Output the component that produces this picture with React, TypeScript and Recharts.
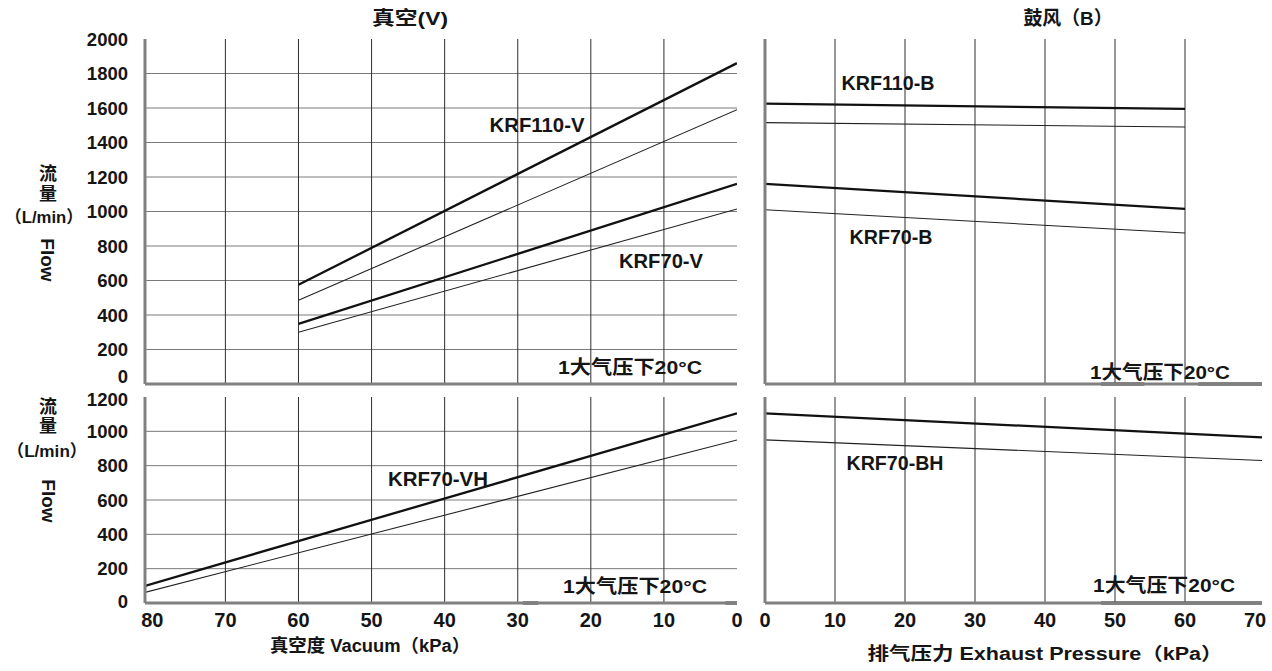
import React from 'react';
import { LineChart, Line, XAxis, YAxis, CartesianGrid, ReferenceLine } from 'recharts';

const FF = "'Liberation Sans', Arial, 'Noto Sans CJK SC', sans-serif";
const CJK = "'Liberation Sans', 'Noto Sans CJK SC', sans-serif";

// ---- Top-left: vacuum (V) ----
const vacuumX = [60, 0];
const krf110V_upper = [575, 1860];
const krf110V_lower = [485, 1590];
const krf70V_upper = [348, 1160];
const krf70V_lower = [300, 1015];

// ---- Top-right: blow (B) ----
const blowX = [0, 60];
const krf110B_upper = [1625, 1595];
const krf110B_lower = [1515, 1490];
const krf70B_upper = [1160, 1015];
const krf70B_lower = [1010, 875];

// ---- Bottom-left: vacuum (VH) ----
const vhX = [81, 0];
const krf70VH_upper = [100, 1105];
const krf70VH_lower = [62, 950];

// ---- Bottom-right: blow (BH) ----
const bhX = [0, 71];
const krf70BH_upper = [1105, 965];
const krf70BH_lower = [950, 830];

// ---- Ticks ----
const vacuumTicks = [80, 70, 60, 50, 40, 30, 20, 10, 0];
const pressureTicks = [0, 10, 20, 30, 40, 50, 60, 70];
const flowTicksTop = [0, 200, 400, 600, 800, 1000, 1200, 1400, 1600, 1800, 2000];
const flowTicksBottom = [0, 200, 400, 600, 800, 1000, 1200];
const gridTopLeft = [200, 400, 600, 800, 1000, 1200, 1400, 1600, 1800];
const gridTopRight = [200, 400, 600, 800, 1000, 1400, 1600, 1800];
const gridBottomLeft = [200, 400, 600, 800, 1000];
const vacuumGrid = [70, 60, 50, 40, 30, 20, 10];
const pressureGrid = [10, 20, 30, 40, 50, 60];

// dark axis segments (scan marks on the base line)
const tlMarks: number[][] = [];
const trMarks = [[48, 54.2], [61.9, 71]];
const blMarks = [[29.3, 27.2], [1.6, 0]];
const brMarks = [[48, 71]];

const pts = (xs: number[], ys: number[]) => xs.map((x, i) => ({ x, y: ys[i] }));

type Series = { name: string; data: { x: number; y: number }[]; thick: boolean };

type PanelProps = {
  left: number; top: number; width: number; height: number;
  margin: { top: number; right: number; bottom: number; left: number };
  xDomain: [number, number]; reversed: boolean; xTicks: number[] | null; xHeight: number;
  yDomain: [number, number]; yTicks: number[]; showY: boolean; yWidth: number;
  zeroShift: number; topShift: number;
  hGrid: number[]; vGrid: number[];
  series: Series[]; marks: number[][];
};

const axisLine = { stroke: '#808080', strokeWidth: 3 };

const makeYTick = (zeroShift: number, topShift: number, topValue: number) => (props: any) => {
  const { x, y, payload } = props;
  const dy = payload.value === 0 ? zeroShift : payload.value === topValue ? topShift : 0;
  return (
    <text
      x={x}
      y={y + dy}
      textAnchor="end"
      dominantBaseline="central"
      fill="#151515"
      fontSize={18.5}
      fontWeight="bold"
      fontFamily={FF}
    >
      {payload.value}
    </text>
  );
};

function Panel(p: PanelProps) {
  return (
    <div style={{ position: 'absolute', left: p.left, top: p.top, width: p.width, height: p.height }}>
      <LineChart width={p.width} height={p.height} margin={p.margin}>
        {p.hGrid.length > 0 && (
          <CartesianGrid vertical={false} horizontalValues={p.hGrid} stroke="#7a7a7a" strokeWidth={1} />
        )}
        {p.vGrid.map((v) => (
          <ReferenceLine key={'v' + v} x={v} stroke="#2e2e2e" strokeWidth={1} />
        ))}
        <XAxis
          type="number"
          dataKey="x"
          domain={p.xDomain}
          reversed={p.reversed}
          ticks={p.xTicks ?? []}
          interval={0}
          allowDataOverflow
          height={p.xHeight}
          tickLine={false}
          tickSize={6}
          tickMargin={4}
          axisLine={axisLine}
          tick={p.xTicks ? { fill: '#151515', fontSize: 20, fontWeight: 'bold', fontFamily: FF } : false}
        />
        <YAxis
          type="number"
          domain={p.yDomain}
          ticks={p.yTicks}
          interval={0}
          allowDataOverflow
          width={p.yWidth}
          tickLine={false}
          tickSize={6}
          tickMargin={11}
          axisLine={axisLine}
          tick={p.showY ? makeYTick(p.zeroShift, p.topShift, p.yDomain[1]) : false}
        />
        {p.marks.map((m, i) => (
          <ReferenceLine
            key={'m' + i}
            segment={[{ x: m[0], y: 0 }, { x: m[1], y: 0 }]}
            stroke="#111"
            strokeWidth={3}
            ifOverflow="visible"
          />
        ))}
        {p.series.map((s) => (
          <Line
            key={s.name}
            name={s.name}
            data={s.data}
            dataKey="y"
            type="linear"
            dot={false}
            activeDot={false}
            stroke={s.thick ? '#111' : '#222'}
            strokeWidth={s.thick ? 2.3 : 1.1}
            isAnimationActive={false}
          />
        ))}
      </LineChart>
    </div>
  );
}

const T = (props: any) => {
  const { ff, ...rest } = props;
  return (
    <text
      fontFamily={ff ?? FF}
      fontWeight="bold"
      fill="#151515"
      textAnchor="middle"
      dominantBaseline="central"
      {...rest}
    />
  );
};

export default function App() {
  return (
    <div style={{ position: 'absolute', left: 0, top: 0, width: 1272, height: 671, background: '#fff', overflow: 'hidden' }}>
      <Panel
        left={0} top={0} width={760} height={400}
        margin={{ top: 39, right: 23, bottom: 0, left: 85 }}
        xDomain={[0, 81]} reversed xTicks={null} xHeight={16}
        yDomain={[0, 2000]} yTicks={flowTicksTop} showY yWidth={60} zeroShift={-8} topShift={0}
        hGrid={gridTopLeft} vGrid={vacuumGrid}
        marks={tlMarks}
        series={[
          { name: 'KRF110-V upper', data: pts(vacuumX, krf110V_upper), thick: true },
          { name: 'KRF110-V lower', data: pts(vacuumX, krf110V_lower), thick: false },
          { name: 'KRF70-V upper', data: pts(vacuumX, krf70V_upper), thick: true },
          { name: 'KRF70-V lower', data: pts(vacuumX, krf70V_lower), thick: false },
        ]}
      />
      <Panel
        left={740} top={0} width={532} height={400}
        margin={{ top: 39, right: 10, bottom: 0, left: 20 }}
        xDomain={[0, 71]} reversed={false} xTicks={null} xHeight={16}
        yDomain={[0, 2000]} yTicks={flowTicksTop} showY={false} yWidth={5} zeroShift={0} topShift={0}
        hGrid={gridTopRight} vGrid={pressureGrid}
        marks={trMarks}
        series={[
          { name: 'KRF110-B upper', data: pts(blowX, krf110B_upper), thick: true },
          { name: 'KRF110-B lower', data: pts(blowX, krf110B_lower), thick: false },
          { name: 'KRF70-B upper', data: pts(blowX, krf70B_upper), thick: true },
          { name: 'KRF70-B lower', data: pts(blowX, krf70B_lower), thick: false },
        ]}
      />
      <Panel
        left={0} top={380} width={760} height={291}
        margin={{ top: 17, right: 23, bottom: 28, left: 85 }}
        xDomain={[0, 81]} reversed xTicks={vacuumTicks} xHeight={40}
        yDomain={[0, 1200]} yTicks={flowTicksBottom} showY yWidth={60} zeroShift={-2} topShift={2}
        hGrid={gridBottomLeft} vGrid={vacuumGrid}
        marks={blMarks}
        series={[
          { name: 'KRF70-VH upper', data: pts(vhX, krf70VH_upper), thick: true },
          { name: 'KRF70-VH lower', data: pts(vhX, krf70VH_lower), thick: false },
        ]}
      />
      <Panel
        left={740} top={380} width={532} height={291}
        margin={{ top: 17, right: 10, bottom: 28, left: 20 }}
        xDomain={[0, 71]} reversed={false} xTicks={pressureTicks} xHeight={40}
        yDomain={[0, 1200]} yTicks={flowTicksBottom} showY={false} yWidth={5} zeroShift={0} topShift={0}
        hGrid={[]} vGrid={pressureGrid}
        marks={brMarks}
        series={[
          { name: 'KRF70-BH upper', data: pts(bhX, krf70BH_upper), thick: true },
          { name: 'KRF70-BH lower', data: pts(bhX, krf70BH_lower), thick: false },
        ]}
      />
      <svg width={1272} height={671} style={{ position: 'absolute', left: 0, top: 0, pointerEvents: 'none' }}>
        {/* titles */}
        <T x={410} y={18} fontSize={19} ff={CJK} textLength={76} lengthAdjust="spacingAndGlyphs">真空(V)</T>
        <T x={1068} y={18} fontSize={19} ff={CJK} textLength={89} lengthAdjust="spacingAndGlyphs">鼓风（B）</T>

        {/* y axis labels top */}
        <T x={48} y={174} fontSize={18} ff={CJK}>流</T>
        <T x={48} y={194} fontSize={18} ff={CJK}>量</T>
        <T x={44} y={217} fontSize={17} ff={CJK} textLength={78} lengthAdjust="spacingAndGlyphs">（L/min）</T>
        <T x={0} y={0} fontSize={19} transform="translate(47,260) rotate(90)">Flow</T>

        {/* y axis labels bottom */}
        <T x={48} y={407} fontSize={18} ff={CJK}>流</T>
        <T x={48} y={426} fontSize={18} ff={CJK}>量</T>
        <T x={47} y={451} fontSize={17} ff={CJK} textLength={80} lengthAdjust="spacingAndGlyphs">（L/min）</T>
        <T x={0} y={0} fontSize={19} transform="translate(48,501) rotate(90)">Flow</T>

        {/* x axis titles */}
        <T x={370} y={646} fontSize={18} ff={CJK} textLength={200} lengthAdjust="spacingAndGlyphs">真空度 Vacuum（kPa）</T>
        <T x={1045} y={654} fontSize={18} ff={CJK} textLength={355} lengthAdjust="spacingAndGlyphs">排气压力  Exhaust Pressure（kPa）</T>

        {/* conditions */}
        <T x={630} y={367} fontSize={19} ff={CJK} textLength={144} lengthAdjust="spacingAndGlyphs">1大气压下20°C</T>
        <T x={1160} y={372} fontSize={19} ff={CJK} textLength={140} lengthAdjust="spacingAndGlyphs">1大气压下20°C</T>
        <T x={635} y={586} fontSize={19} ff={CJK} textLength={144} lengthAdjust="spacingAndGlyphs">1大气压下20°C</T>
        <T x={1164} y={585} fontSize={19} ff={CJK} textLength={142} lengthAdjust="spacingAndGlyphs">1大气压下20°C</T>

        {/* series labels */}
        <T x={537} y={125} fontSize={20} textLength={95} lengthAdjust="spacingAndGlyphs">KRF110-V</T>
        <T x={661} y={261} fontSize={20} textLength={84} lengthAdjust="spacingAndGlyphs">KRF70-V</T>
        <T x={888} y={83} fontSize={20} textLength={93} lengthAdjust="spacingAndGlyphs">KRF110-B</T>
        <T x={891} y={237} fontSize={20} textLength={83} lengthAdjust="spacingAndGlyphs">KRF70-B</T>
        <T x={438} y={479} fontSize={20} textLength={100} lengthAdjust="spacingAndGlyphs">KRF70-VH</T>
        <T x={895} y={463} fontSize={20} textLength={97} lengthAdjust="spacingAndGlyphs">KRF70-BH</T>
      </svg>
    </div>
  );
}
